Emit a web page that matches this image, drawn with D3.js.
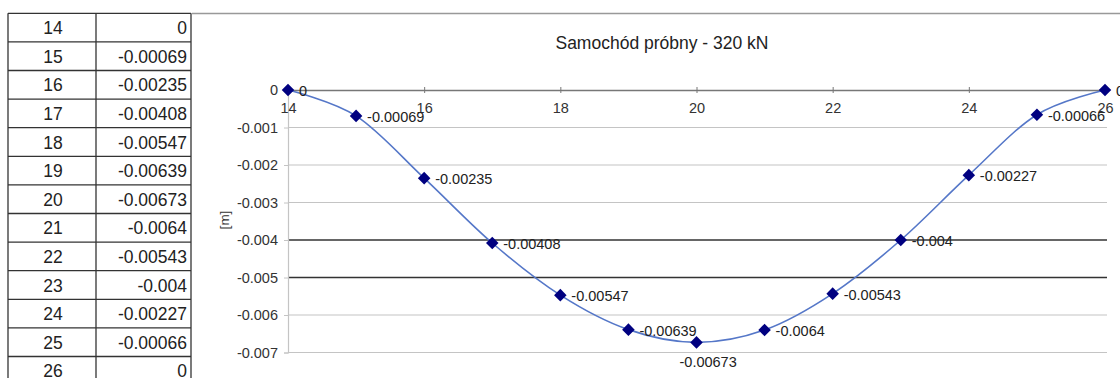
<!DOCTYPE html>
<html>
<head>
<meta charset="utf-8">
<script src="https://cdn.jsdelivr.net/npm/d3@7"></script>
<style>
  html, body { margin: 0; padding: 0; background: #fff; }
  svg { display: block; font-family: Arial, "Liberation Sans", sans-serif; }
</style>
</head>
<body>
<svg id="chart" width="1120" height="378"></svg>
<script>
// Measurement points along the span and the recorded deflection [m]
const points = [14, 15, 16, 17, 18, 19, 20, 21, 22, 23, 24, 25, 26];
const deflection = [0, -0.00069, -0.00235, -0.00408, -0.00547, -0.00639, -0.00673,
                    -0.0064, -0.00543, -0.004, -0.00227, -0.00066, 0];
const xTicks = [14, 16, 18, 20, 22, 24, 26];
const yTicks = [0, -0.001, -0.002, -0.003, -0.004, -0.005, -0.006, -0.007];
const darkGridValues = [-0.004, -0.005];
const title = "Samochód próbny - 320 kN";
const yAxisTitle = "[m]";

const svg = d3.select("#chart");

// ---------- data table on the left ----------
const tableLeft = 8, tableMid = 96, tableRight = 191, tableTop = 13.3;
const rowScale = d3.scaleBand()
  .domain(points)
  .range([tableTop, tableTop + points.length * 28.6]);

const table = svg.append("g");
table.selectAll("text.pt")
  .data(points)
  .join("text")
  .attr("x", (tableLeft + tableMid) / 2 + 1)
  .attr("y", d => rowScale(d) + rowScale.bandwidth() / 2 + 6.5)
  .attr("text-anchor", "middle")
  .attr("font-size", 17.5)
  .attr("fill", "#222")
  .text(d => d);
table.selectAll("text.val")
  .data(points)
  .join("text")
  .attr("x", tableRight - 4)
  .attr("y", d => rowScale(d) + rowScale.bandwidth() / 2 + 6.5)
  .attr("text-anchor", "end")
  .attr("font-size", 17.5)
  .attr("fill", "#222")
  .text((d, i) => String(deflection[i]));
// row separators
table.selectAll("line.row")
  .data(points)
  .join("line")
  .attr("x1", tableLeft).attr("x2", tableRight)
  .attr("y1", d => rowScale(d)).attr("y2", d => rowScale(d))
  .attr("stroke", "#333").attr("stroke-width", 1.3);
[tableLeft, tableMid, tableRight].forEach(x => {
  table.append("line")
    .attr("x1", x).attr("x2", x)
    .attr("y1", tableTop).attr("y2", 378)
    .attr("stroke", "#333").attr("stroke-width", 1.3);
});

// chart frame top border
svg.append("line")
  .attr("x1", 192).attr("x2", 1120)
  .attr("y1", 13.5).attr("y2", 13.5)
  .attr("stroke", "#999").attr("stroke-width", 1.5);

// ---------- line chart ----------
const x = d3.scaleLinear().domain([14, 26]).range([288, 1105]);
const y = d3.scaleLinear().domain([0, -0.007]).range([90, 352.5]);

const plot = svg.append("g");

// horizontal gridlines
plot.selectAll("line.grid")
  .data(yTicks.filter(v => v !== 0))
  .join("line")
  .attr("x1", x(14)).attr("x2", 1107)
  .attr("y1", d => y(d)).attr("y2", d => y(d))
  .attr("stroke", d => darkGridValues.includes(d) ? "#333" : "#c4c4c4")
  .attr("stroke-width", d => darkGridValues.includes(d) ? 1.4 : 1.2);

// y axis
const yAxis = d3.axisLeft(y).tickValues(yTicks).tickSize(4).tickPadding(6)
  .tickFormat(d => d === 0 ? "0" : d3.format(".3f")(d).replace("−", "-"));
const gy = plot.append("g").attr("transform", `translate(${x(14)},0)`).call(yAxis);
gy.select(".domain").attr("stroke", "#c4c4c4").attr("stroke-width", 1.2);
gy.selectAll(".tick line").attr("stroke", "#c4c4c4");
gy.selectAll(".tick text").attr("font-size", 14.5).attr("fill", "#333")
  .attr("font-family", "Arial, 'Liberation Sans', sans-serif");

// x axis along zero
const xAxis = d3.axisBottom(x).tickValues(xTicks).tickSize(0).tickPadding(13)
  .tickFormat(d3.format("d"));
const gx = plot.append("g").attr("transform", `translate(0,${y(0)})`).call(xAxis);
gx.select(".domain").attr("stroke", "#777").attr("stroke-width", 1.3);
gx.selectAll(".tick text").attr("font-size", 14.5).attr("fill", "#333")
  .attr("font-family", "Arial, 'Liberation Sans', sans-serif");
gx.selectAll(".tick").append("line")
  .attr("y1", -3).attr("y2", 3)
  .attr("stroke", "#777");

// smoothed deflection curve
const data = points.map((p, i) => ({ p, v: deflection[i] }));
const line = d3.line()
  .x(d => x(d.p)).y(d => y(d.v))
  .curve(d3.curveCatmullRom.alpha(0));
plot.append("path")
  .datum(data)
  .attr("d", line)
  .attr("fill", "none")
  .attr("stroke", "#5577c8")
  .attr("stroke-width", 1.6);

// diamond markers
const diamond = d3.symbol().type(d3.symbolDiamond2).size(100);
plot.selectAll("path.mk")
  .data(data)
  .join("path")
  .attr("transform", d => `translate(${x(d.p)},${y(d.v)})`)
  .attr("d", diamond)
  .attr("fill", "#000080");

// value labels
const lowest = d3.min(deflection);
plot.selectAll("text.lbl")
  .data(data)
  .join("text")
  .attr("x", d => d.v === lowest ? x(d.p) - 17 : x(d.p) + 11)
  .attr("y", d => d.v === lowest ? y(d.v) + 25 : y(d.v) + 6)
  .attr("font-size", 14.5)
  .attr("fill", "#222")
  .text(d => String(d.v));

// title
svg.append("text")
  .attr("x", 662).attr("y", 49)
  .attr("text-anchor", "middle")
  .attr("font-size", 17.5)
  .attr("fill", "#222")
  .text(title);

// y axis title
svg.append("text")
  .attr("transform", "translate(229,220) rotate(-90)")
  .attr("text-anchor", "middle")
  .attr("font-size", 13.5)
  .attr("fill", "#333")
  .text(yAxisTitle);
</script>
</body>
</html>
